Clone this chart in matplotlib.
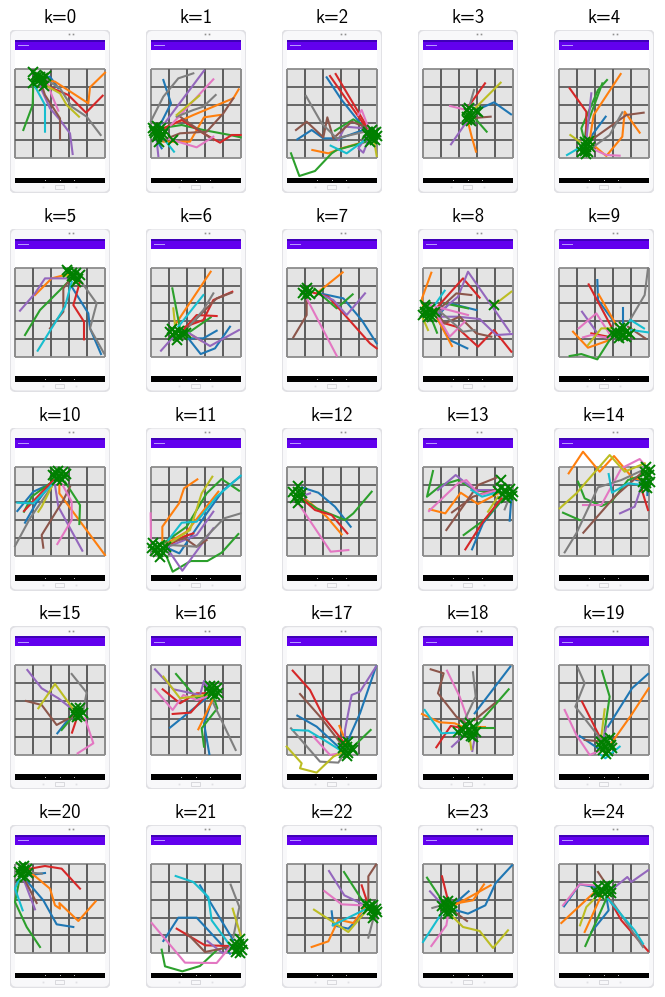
import matplotlib
matplotlib.use('Agg')
import matplotlib.pyplot as plt
from matplotlib.patches import FancyBboxPatch, Rectangle

k0_paths = [
    (0, [(125,235),(150,230),(175,265)]),
    (1, [(125,238),(165,245),(265,310),(270,262),(315,218)]),
    (2, [(100,245),(98,315),(70,390)]),
    (3, [(130,240),(150,262),(205,285),(258,338),(308,287)]),
    (4, [(120,250),(125,270),(150,325),(180,360),(210,400),(218,462)]),
    (5, [(125,255),(135,285),(180,355),(180,418)]),
    (6, [(140,240),(155,285),(175,332)]),
    (7, [(140,240),(180,265),(215,320),(260,350),(302,405)]),
    (8, [(135,255),(180,280),(200,315),(237,350)]),
    (9, [(100,250),(135,315),(135,395)]),
]
k1_paths = [
    (0, [(470,395),(513,310),(490,240)]),
    (0, [(470,420),(485,445)]),
    (1, [(480,390),(580,345),(700,295),(716,268)]),
    (1, [(490,425),(570,425),(612,352),(660,345)]),
    (2, [(480,385),(545,375),(610,390),(690,405),(722,412)]),
    (3, [(480,390),(545,360),(610,400),(660,428),(695,405),(722,405)]),
    (4, [(490,375),(612,212)]),
    (4, [(470,420),(475,468)]),
    (5, [(490,420),(540,400),(620,395),(670,340),(700,295)]),
    (5, [(540,350),(640,420)]),
    (6, [(490,400),(640,238)]),
    (6, [(500,415),(590,442),(640,410)]),
    (7, [(470,375),(452,365),(490,290),(535,235),(580,220)]),
    (7, [(530,350),(580,330),(610,320),(647,285)]),
    (8, [(530,345),(598,287)]),
    (9, [(490,415),(522,455)]),
]
k2_paths = [
    (0, [(295,400),(215,300),(170,232)]),
    (0, [(280,390),(210,415),(160,415),(125,390),(82,418)]),
    (1, [(285,425),(215,445),(175,460),(127,450)]),
    (2, [(290,425),(200,450),(185,460),(135,513),(88,528),(63,460)]),
    (2, [(290,385),(250,358),(195,392)]),
    (3, [(300,395),(197,222)]),
    (3, [(290,385),(180,228)]),
    (4, [(285,385),(225,380),(205,420)]),
    (4, [(295,420),(280,458),(265,445),(290,410)]),
    (5, [(300,385),(270,375),(245,365),(190,415),(172,352),(160,412),(110,365),(78,390)]),
    (6, [(300,395),(275,330),(265,345)]),
    (7, [(285,395),(200,415),(155,370),(108,288)]),
    (8, [(312,420),(320,468)]),
    (9, [(285,420),(230,460),(182,437)]),
]
k3_paths = [
    (0, [(620,330),(672,307),(723,343)]),
    (1, [(595,370),(605,410),(618,455)]),
    (2, [(615,355),(650,395)]),
    (3, [(595,320),(645,250)]),
    (4, [(590,365),(543,433)]),
    (5, [(600,355),(662,350)]),
    (6, [(590,330),(540,318)]),
    (7, [(595,330),(612,270)]),
    (8, [(615,325),(692,248)]),
]
k4_paths = [
    (0, [(960,415),(1008,350)]),
    (1, [(960,420),(972,345),(1053,222)]),
    (1, [(965,430),(1010,468),(1058,410),(1065,335),(1110,398)]),
    (2, [(945,425),(935,385),(985,270),(1012,240)]),
    (2, [(945,420),(950,380),(998,250)]),
    (3, [(950,430),(950,335),(900,265)]),
    (4, [(950,420),(965,280)]),
    (5, [(965,420),(1070,345),(1122,338)]),
    (6, [(965,445),(1010,465),(1050,467)]),
    (7, [(965,445),(1020,405),(1058,337)]),
    (8, [(930,425),(902,405)]),
    (9, [(935,440),(892,465)]),
]
k5_paths = [
    (0, [(215,260),(265,340),(270,385),(303,462)]),
    (1, [(205,222),(155,235),(105,285)]),
    (2, [(215,235),(120,330),(75,405)]),
    (3, [(240,245),(220,315),(252,365),(252,418)]),
    (4, [(205,235),(135,235),(105,280),(60,332)]),
    (5, [(205,245),(190,265),(190,335),(150,385)]),
    (7, [(240,240),(290,310),(270,385),(312,460)]),
    (8, [(190,228),(215,225)]),
    (9, [(215,245),(195,320),(113,452)]),
]
k6_paths = [
    (0, [(565,415),(602,462),(645,445),(690,380)]),
    (0, [(565,415),(610,415),(650,392)]),
    (1, [(525,375),(632,215)]),
    (1, [(575,405),(605,423)]),
    (2, [(540,385),(517,265)]),
    (2, [(570,395),(632,352)]),
    (3, [(550,390),(590,345),(650,348)]),
    (3, [(555,380),(610,360),(640,300),(697,275)]),
    (4, [(520,410),(483,452)]),
    (4, [(560,395),(630,438),(717,390)]),
    (5, [(560,385),(600,345),(650,295),(695,278)]),
    (7, [(570,375),(610,330),(640,280)]),
    (8, [(525,375),(520,325)]),
    (9, [(535,380),(610,285)]),
]
k7_paths = [
    (0, [(960,280),(1030,295),(1085,360),(1130,430)]),
    (1, [(950,280),(1028,217)]),
    (2, [(970,290),(1010,325),(1058,283)]),
    (3, [(940,278),(985,290),(1030,340),(1110,430),(1130,445)]),
    (4, [(965,285),(1000,300),(1040,345),(1095,280)]),
    (5, [(920,290),(920,345),(880,412)]),
    (6, [(920,295),(1010,467)]),
]
k8_paths = [
    (0, [(130,345),(165,310),(245,330)]),
    (0, [(125,350),(165,420),(218,445)]),
    (1, [(85,320),(82,295),(110,218)]),
    (1, [(125,350),(172,438)]),
    (2, [(110,355),(127,398)]),
    (2, [(150,310),(220,325)]),
    (3, [(120,330),(205,235),(255,293)]),
    (3, [(130,355),(150,370),(185,380),(250,440),(298,390),(350,455)]),
    (4, [(130,340),(190,290),(220,215),(345,395)]),
    (4, [(130,350),(190,350),(255,357),(305,405),(352,402)]),
    (5, [(120,340),(185,280),(230,285)]),
    (5, [(130,345),(150,370),(195,350),(245,400),(290,410)]),
    (6, [(105,315),(220,345)]),
    (6, [(130,350),(165,410),(210,365)]),
    (7, [(125,325),(160,355),(205,395),(240,390)]),
    (8, [(85,355),(100,390)]),
    (8, [(298,315),(350,275)]),
    (9, [(120,315),(150,272)]),
]
k9_paths = [
    (0, [(665,375),(610,300),(608,240)]),
    (0, [(685,370),(685,325)]),
    (1, [(665,375),(612,283)]),
    (1, [(645,420),(580,443),(535,395)]),
    (2, [(645,420),(608,478),(560,462),(525,468)]),
    (3, [(650,380),(582,253)]),
    (3, [(640,410),(590,400)]),
    (4, [(605,395),(562,335)]),
    (5, [(700,380),(752,415)]),
    (6, [(650,410),(605,340),(552,385)]),
    (6, [(650,415),(590,405),(565,412)]),
    (7, [(700,370),(750,285),(760,205)]),
    (8, [(650,385),(620,385),(580,435)]),
    (9, [(695,375),(708,360),(748,385)]),
    (9, [(710,390),(760,397)]),
]
k10_paths = [
    (0, [(165,245),(100,275),(52,333)]),
    (0, [(150,255),(108,310),(75,368)]),
    (1, [(178,250),(178,280),(315,465)]),
    (2, [(150,250),(95,290),(72,335)]),
    (2, [(195,245),(240,315),(238,372)]),
    (3, [(160,240),(72,333)]),
    (4, [(165,255),(175,320),(247,452)]),
    (5, [(210,260),(190,300),(125,405),(130,443)]),
    (6, [(185,250),(215,305),(215,360),(172,432)]),
    (7, [(155,260),(90,355),(45,438)]),
    (8, [(160,250),(125,320),(115,335)]),
    (9, [(160,250),(100,310),(52,308)]),
]
k11_paths = [
    (0, [(505,445),(538,460),(620,340),(670,270),(720,230)]),
    (1, [(487,420),(487,380),(537,310),(552,265),(592,238)]),
    (1, [(500,430),(560,395),(655,275)]),
    (2, [(490,430),(560,380),(620,280),(665,237),(717,272)]),
    (2, [(500,470),(518,515),(572,483),(622,483),(665,458),(715,402)]),
    (3, [(500,440),(550,410),(580,400)]),
    (4, [(505,440),(590,405),(640,335)]),
    (4, [(505,450),(547,512),(640,385)]),
    (5, [(500,430),(555,415),(590,440),(620,420)]),
    (6, [(453,430),(452,340)]),
    (7, [(510,435),(590,440),(672,355),(722,340)]),
    (8, [(500,435),(570,390),(605,280),(637,230)]),
    (9, [(505,420),(545,368),(590,365),(650,290),(722,227)]),
]
k12_paths = [
    (0, [(905,262),(955,278),(1005,320),(1052,380)]),
    (1, [(920,300),(980,350),(1025,403)]),
    (2, [(905,295),(950,325),(1035,360),(1060,340),(1115,275)]),
    (3, [(905,295),(945,330),(995,345),(1042,400)]),
    (4, [(900,290),(930,280)]),
    (6, [(895,310),(992,455),(1045,450)]),
]
k13_paths = [
    (0, [(232,448),(265,370),(330,290)]),
    (0, [(350,295),(345,362)]),
    (1, [(105,328),(152,340),(198,278),(250,312),(310,280)]),
    (2, [(115,213),(97,290),(140,255),(190,240),(240,270),(300,280)]),
    (2, [(330,290),(275,355),(207,405)]),
    (3, [(212,448),(265,365),(320,295)]),
    (4, [(130,270),(183,225),(240,270),(300,270)]),
    (5, [(155,390),(250,255),(305,233)]),
    (5, [(172,337),(235,290),(300,270)]),
    (6, [(103,333),(190,250),(215,240),(255,285),(310,270)]),
    (7, [(330,328),(345,290)]),
    (8, [(280,335),(310,290)]),
    (9, [(230,270),(262,290),(315,275)]),
]
k14_paths = [
    (0, [(725,240),(758,245),(758,285)]),
    (1, [(522,220),(565,155),(615,215),(658,168),(715,235),(745,240)]),
    (2, [(505,338),(555,360)]),
    (2, [(550,245),(570,295),(620,318),(650,305),(700,240),(745,225)]),
    (3, [(740,265),(760,330)]),
    (4, [(676,340),(720,320),(740,260)]),
    (5, [(566,398),(660,290),(745,215)]),
    (6, [(565,315),(620,315),(680,205),(735,177),(755,200)]),
    (7, [(510,457),(545,400),(610,262),(680,240),(745,210)]),
    (8, [(495,325),(545,280),(645,165),(690,215),(750,190)]),
    (9, [(642,222),(652,278),(700,250),(745,255)]),
]
k15_paths = [
    (0, [(215,345),(172,400)]),
    (2, [(210,360),(185,390)]),
    (3, [(232,350),(216,398)]),
    (4, [(82,210),(125,265),(175,295),(220,330)]),
    (5, [(78,303),(125,315),(170,375),(225,345)]),
    (6, [(255,355),(280,430),(233,460)]),
    (7, [(215,222),(260,278),(250,330)]),
    (8, [(115,325),(165,252),(225,335)]),
]
k16_paths = [
    (0, [(510,383),(625,290)]),
    (0, [(640,290),(612,370),(628,462)]),
    (1, [(640,295),(595,388)]),
    (2, [(528,222),(590,295),(630,280)]),
    (2, [(640,290),(652,325),(605,385),(612,440)]),
    (3, [(488,268),(540,310),(590,280),(620,280)]),
    (3, [(518,342),(572,338),(610,295)]),
    (4, [(465,208),(520,268),(600,285),(612,243),(625,265)]),
    (6, [(465,268),(518,330),(550,285),(590,300),(620,290)]),
    (7, [(640,310),(707,450)]),
    (8, [(490,230),(540,295),(620,285)]),
]
k17_paths = [
    (0, [(892,347),(950,380),(1020,445)]),
    (0, [(1040,430),(1080,340),(1128,200)]),
    (1, [(1018,378),(1040,430)]),
    (2, [(1060,440),(1112,390)]),
    (3, [(878,212),(930,270),(970,350),(1030,425)]),
    (4, [(1035,420),(1035,390),(1055,285),(1080,275),(1128,200)]),
    (5, [(900,282),(960,350),(1030,440)]),
    (6, [(940,410),(990,465),(1020,460)]),
    (7, [(873,385),(960,485),(1015,488),(1040,450)]),
    (8, [(860,440),(905,490),(900,505),(950,518),(1000,470),(1030,455)]),
    (9, [(878,390),(925,392),(980,425),(1020,450)]),
]
k18_paths = [
    (0, [(347,200),(240,340)]),
    (1, [(82,342),(135,367),(180,370),(215,385)]),
    (1, [(245,380),(272,380)]),
    (2, [(342,268),(240,385)]),
    (2, [(240,385),(297,385)]),
    (3, [(125,442),(168,378),(210,385)]),
    (4, [(172,440),(210,405)]),
    (4, [(240,415),(233,453)]),
    (5, [(108,208),(147,220),(130,280),(185,350),(215,370)]),
    (5, [(300,310),(240,360)]),
    (6, [(157,212),(195,290),(218,355)]),
    (7, [(235,217),(243,290),(210,360)]),
    (8, [(226,420),(230,448)]),
    (9, [(90,330),(140,400),(190,398)]),
]
k19_paths = [
    (0, [(760,222),(712,265),(640,380)]),
    (0, [(555,408),(610,445)]),
    (1, [(762,265),(710,345),(650,430)]),
    (2, [(622,213),(645,290),(630,390),(630,420)]),
    (3, [(562,305),(620,420)]),
    (4, [(635,380),(628,410)]),
    (5, [(570,420),(625,425)]),
    (6, [(510,330),(545,405),(585,465),(620,450)]),
    (7, [(550,205),(570,250),(542,320),(620,420)]),
    (8, [(630,328),(620,410)]),
    (9, [(615,462),(632,475),(675,440)]),
]
k20_paths = [
    (0, [(85,235),(135,228)]),
    (0, [(70,240),(130,310),(170,382),(220,390)]),
    (1, [(90,225),(150,275),(165,325),(180,335),(178,318),(235,372),(287,313)]),
    (2, [(60,240),(45,315),(80,390),(120,450)]),
    (3, [(90,215),(135,207),(185,215),(240,275)]),
    (4, [(70,245),(105,337)]),
    (5, [(70,240),(110,318)]),
    (7, [(75,225),(125,230)]),
    (9, [(60,240),(45,275),(68,340)]),
]
k21_paths = [
    (0, [(600,265),(700,430)]),
    (0, [(690,470),(590,362),(535,362),(490,432)]),
    (2, [(485,458),(495,508),(547,523),(600,507),(650,460)]),
    (3, [(530,395),(615,445),(690,447)]),
    (4, [(622,432),(670,470),(690,455)]),
    (5, [(560,408),(615,465),(690,450)]),
    (6, [(455,378),(555,497),(650,498),(690,450)]),
    (7, [(692,263),(718,330),(700,420)]),
    (8, [(698,335),(722,415)]),
    (9, [(527,237),(580,255),(625,300),(635,370),(690,445)]),
]
k22_paths = [
    (0, [(995,343),(1000,385),(1045,395),(1100,340)]),
    (1, [(935,450),(985,433),(1015,368),(1060,378),(1095,330)]),
    (2, [(1032,225),(1090,315)]),
    (3, [(1085,265),(1100,310)]),
    (4, [(987,222),(1033,295),(1085,320)]),
    (5, [(1128,203),(1105,238),(1105,310)]),
    (6, [(973,282),(1025,322),(1085,325)]),
    (7, [(1105,422),(1120,365)]),
    (8, [(942,338),(1045,405),(1100,340)]),
    (9, [(998,385),(1100,335)]),
]
k23_paths = [
    (0, [(185,340),(220,350),(272,325),(303,258),(352,205)]),
    (0, [(180,320),(222,283)]),
    (1, [(180,320),(235,310),(268,262)]),
    (1, [(180,325),(288,265)]),
    (2, [(145,315),(97,242)]),
    (3, [(160,310),(142,238)]),
    (4, [(140,320),(106,283)]),
    (5, [(180,345),(217,372)]),
    (6, [(160,355),(155,385),(110,447)]),
    (7, [(140,325),(113,333)]),
    (8, [(170,355),(205,390),(255,402),(295,453),(340,400)]),
    (9, [(140,350),(85,435)]),
]
k24_paths = [
    (0, [(600,270),(555,262),(508,328)]),
    (0, [(635,300),(642,340),(590,405)]),
    (1, [(600,285),(500,378)]),
    (1, [(620,295),(570,405)]),
    (2, [(635,305),(572,447)]),
    (3, [(640,300),(680,370),(760,462)]),
    (4, [(655,275),(698,240),(710,255),(760,220)]),
    (5, [(630,255),(610,225)]),
    (6, [(600,265),(555,262),(505,325)]),
    (7, [(650,310),(745,450)]),
    (8, [(600,305),(575,330),(556,385)]),
    (9, [(635,300),(720,400),(745,440)]),
]

# green x markers, estimated from each blob
k0_taps = [(100,215),(108,225),(120,230),(130,235),(115,242),(100,248),(122,238),(132,258),(137,228),(110,232),(126,246)]
k1_taps = [(460,385),(470,378),(482,385),(465,398),(478,395),(490,402),(470,410),(485,412),(478,425),(495,392),(520,420),(462,392),(475,402)]
k2_taps = [(295,395),(305,390),(318,395),(298,408),(310,405),(322,408),(305,418),(316,420),(290,402),(300,425),(312,398)]
k3_taps = [(590,330),(598,340),(592,350),(600,352),(590,360),(602,362),(618,332),(625,335),(596,325)]
k4_taps = [(945,425),(955,432),(938,440),(950,442),(962,440),(945,452),(955,455),(938,455),(958,422),(948,462)]
k5_taps = [(205,215),(215,218),(228,220),(240,225),(222,232),(235,238),(215,228),(228,245),(200,210)]
k6_taps = [(515,388),(525,395),(538,392),(550,398),(520,405),(535,408),(545,405),(530,420),(558,400),(510,395)]
k7_taps = [(915,270),(925,275),(918,285),(930,282),(922,265),(958,278),(910,278)]
k8_taps = [(95,320),(105,328),(90,335),(100,340),(112,338),(85,345),(100,352),(112,350),(92,315),(298,315),(120,335)]
k9_taps = [(665,395),(675,385),(688,380),(695,395),(675,400),(660,405),(685,408),(695,412),(672,415),(705,402),(652,400)]
k10_taps = [(165,215),(175,212),(190,215),(165,228),(178,228),(192,228),(172,240),(185,240),(158,225),(198,222)]
k11_taps = [(458,430),(455,445),(470,440),(480,435),(490,445),(475,455),(488,460),(480,470),(497,440),(465,452)]
k12_taps = [(895,258),(878,275),(895,275),(885,295),(895,310),(905,280),(900,295)]
k13_taps = [(318,240),(320,265),(332,270),(345,268),(355,275),(325,282),(340,285),(352,288),(335,295),(310,272)]
k14_taps = [(755,200),(765,210),(752,215),(762,225),(755,232),(745,245),(755,250),(765,245),(748,262),(758,265)]
k15_taps = [(228,325),(240,325),(222,338),(235,338),(248,340),(230,350),(240,348)]
k16_taps = [(630,258),(642,258),(652,265),(628,272),(640,272),(655,278),(635,282),(646,285)]
k17_taps = [(1030,430),(1045,425),(1028,445),(1040,442),(1055,445),(1032,458),(1045,458),(1060,450),(1040,468)]
k18_taps = [(212,375),(225,370),(235,380),(205,390),(220,390),(232,395),(190,395),(212,405),(228,408),(245,395),(235,410)]
k19_taps = [(620,425),(632,420),(645,415),(618,440),(632,438),(648,435),(625,450),(640,452),(652,445),(635,462)]
k20_taps = [(62,210),(72,208),(82,215),(58,225),(70,225),(85,228),(62,238),(76,240),(72,218)]
k21_taps = [(720,425),(705,440),(718,440),(730,442),(700,450),(712,455),(725,458),(708,465),(720,468)]
k22_taps = [(1098,320),(1110,328),(1120,325),(1128,335),(1115,340),(1105,335),(1122,350),(1132,345),(1118,362)]
k23_taps = [(148,315),(160,312),(172,318),(142,328),(155,328),(170,330),(148,342),(160,342),(172,342),(160,352)]
k24_taps = [(610,270),(605,285),(618,280),(630,268),(640,265),(650,275),(625,285),(638,285),(650,288),(612,290)]

k_paths = [k0_paths, k1_paths, k2_paths, k3_paths, k4_paths, k5_paths, k6_paths, k7_paths, k8_paths,
           k9_paths, k10_paths, k11_paths, k12_paths, k13_paths, k14_paths, k15_paths, k16_paths,
           k17_paths, k18_paths, k19_paths, k20_paths, k21_paths, k22_paths, k23_paths, k24_paths]
k_taps = [k0_taps, k1_taps, k2_taps, k3_taps, k4_taps, k5_taps, k6_taps, k7_taps, k8_taps,
          k9_taps, k10_taps, k11_taps, k12_taps, k13_taps, k14_taps, k15_taps, k16_taps,
          k17_taps, k18_taps, k19_taps, k20_taps, k21_taps, k22_taps, k23_taps, k24_taps]

# where each grid's top left corner sits in the crop its points were read from
grid_x0 = [45, 453, 51, 459, 868, 45, 453, 861, 85, 493, 45, 453, 861, 85, 493,
           45, 453, 861, 85, 493, 45, 453, 861, 85, 493]
grid_y0 = [207]*5 + [203]*5 + [200]*5 + [196]*5 + [201]*5

# grid top left on the figure, pixels
col_px = [15, 151, 287, 423, 559]
row_px = [69, 267.7, 466.7, 665.3, 864]

W, H = 665, 997


def draw_phone(ax, x0, y0):
    ax.add_patch(FancyBboxPatch((x0-11, y0-113), 292, 480, boxstyle='round,pad=4,rounding_size=20',
                                fc='#f8f8fa', ec='#e0e0e4', lw=1.3, zorder=1))
    ax.add_patch(Rectangle((x0, y0-87), 270, 413, fc='white', ec='none', zorder=2))
    ax.add_patch(Rectangle((x0, y0-87), 270, 30, fc='#6200ee', ec='none', zorder=3))
    ax.add_patch(Rectangle((x0, y0-87), 270, 6, fc='#3f00b8', ec='none', zorder=3))
    ax.add_patch(Rectangle((x0+8, y0-71), 34, 3, fc='#b79aff', ec='none', zorder=4))
    ax.add_patch(Rectangle((x0, y0), 270, 268, fc='#e4e4e4', ec='none', zorder=2))
    for i in range(6):
        c = '#8c8c8c' if i in (0, 5) else '#5c5c5c'
        ax.plot([x0+54*i]*2, [y0, y0+268], color=c, lw=1.4, zorder=3, solid_capstyle='butt')
        ax.plot([x0, x0+270], [y0+53.6*i]*2, color=c, lw=1.3, zorder=3, solid_capstyle='butt')
    ax.add_patch(Rectangle((x0, y0+326), 270, 17, fc='black', ec='none', zorder=3))
    for dx in (91, 134, 178):
        ax.plot([x0+dx], [y0+334], 's', ms=0.6, mew=0, color='#cccccc', zorder=4)
    for dx in (162, 175):
        ax.plot([x0+dx], [y0-104], 's', ms=1.2, mew=0, color='#909090', zorder=4)
    ax.add_patch(Rectangle((x0+120, y0+349), 28, 12, fc='none', ec='#d4d4d8', lw=0.6, zorder=3))
    for dx in (84, 183):
        ax.plot([x0+dx], [y0+355], 's', ms=1.3, mew=0, color='#e0e0e4', zorder=3)


fig = plt.figure(figsize=(W/100, H/100), dpi=100)

for k in range(25):
    row, col = divmod(k, 5)
    left = (col_px[col]-5)/W
    bottom = 1 - (row_px[row]-39+163)/H
    ax = fig.add_axes([left, bottom, 100/W, 163/H])
    x0, y0 = grid_x0[k], grid_y0[k]
    ax.set_xlim(x0-15, x0+285)
    ax.set_ylim(y0+372, y0-117)
    ax.axis('off')
    draw_phone(ax, x0, y0)
    for sid, pts in k_paths[k]:
        ax.plot([p[0] for p in pts], [p[1] for p in pts], color='C%d' % sid, lw=1.5, zorder=5)
    ax.plot([p[0] for p in k_taps[k]], [p[1] for p in k_taps[k]], 'x', color='green',
            ms=6.5, mew=1.4, zorder=6, clip_on=False)
    ax.set_title('k=%d' % k, family='cmss10', fontsize=13.5, pad=5)

fig.savefig('out.png', dpi=100)
